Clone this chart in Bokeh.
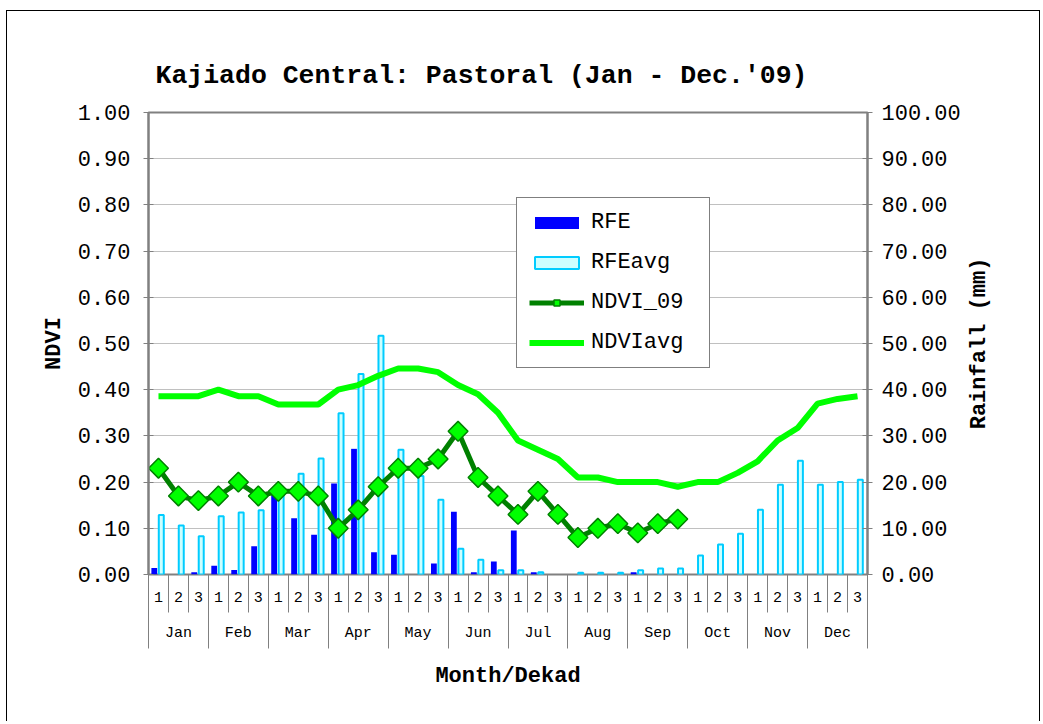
import numpy as np
from bokeh.plotting import figure
from bokeh.models import (Range1d, LinearAxis, FixedTicker, SingleIntervalTicker,
                          NumeralTickFormatter, Legend, LegendItem, Grid, ColumnDataSource)
from bokeh.embed import file_html
from bokeh.resources import INLINE

# ---------------- data ----------------
months = ["Jan", "Feb", "Mar", "Apr", "May", "Jun", "Jul", "Aug", "Sep", "Oct", "Nov", "Dec"]
dekads = ["1", "2", "3"]

rfe = [1.4, 0.0, 0.5, 1.9, 1.0, 6.1, 18.3, 12.2, 8.6, 19.7, 27.2, 4.8,
       4.3, 0.0, 2.4, 13.6, 0.5, 2.8, 9.5, 0.5, 0.0, 0.0, 0.0, 0.0,
       0.5, 0.0, 0.0, 0.0, 0.0, 0.0, 0.0, 0.0, 0.0, 0.0, 0.0, 0.0]

rfe_avg = [12.9, 10.6, 8.3, 12.6, 13.4, 13.9, 18.6, 21.8, 25.1, 34.9, 43.4, 51.7,
           27.0, 21.3, 16.2, 5.6, 3.2, 0.9, 0.9, 0.5, 0.0, 0.4, 0.4, 0.4,
           0.9, 1.3, 1.3, 4.1, 6.5, 8.8, 14.0, 19.4, 24.6, 19.4, 20.0, 20.5]

ndvi_09 = [0.23, 0.17, 0.16, 0.17, 0.20, 0.17, 0.18, 0.18, 0.17, 0.10, 0.14, 0.19,
           0.23, 0.23, 0.25, 0.31, 0.21, 0.17, 0.13, 0.18, 0.13, 0.08, 0.10, 0.11,
           0.09, 0.11, 0.12]

ndvi_avg = [0.386, 0.386, 0.386, 0.40, 0.386, 0.386, 0.368, 0.368, 0.368, 0.40, 0.41, 0.43,
            0.446, 0.446, 0.438, 0.41, 0.39, 0.35, 0.29, 0.27, 0.25, 0.21, 0.21, 0.20,
            0.20, 0.20, 0.19, 0.20, 0.20, 0.22, 0.245, 0.29, 0.317, 0.37, 0.38, 0.386]

title_text = "Kajiado Central: Pastoral (Jan - Dec.'09)"
left_title = "NDVI"
right_title = "Rainfall (mm)"
bottom_title = "Month/Dekad"

# ---------------- derived positions (category index -> numeric axis) ----------------
n = len(months) * len(dekads)
xc = np.arange(n) + 0.5
rfe_a = np.array(rfe)
rfe_avg_a = np.array(rfe_avg)

FONT = "Liberation Mono"
GRAY = "#808080"

p = figure(width=1034, height=711,
           x_range=Range1d(0, n), y_range=Range1d(0, 1),
           x_axis_type=None, y_axis_type=None,
           output_backend="svg", toolbar_location=None,
           min_border_left=141, min_border_right=174,
           min_border_top=101, min_border_bottom=148,
           background_fill_color="white", border_fill_color="white",
           outline_line_color=GRAY, outline_line_width=2)
p.extra_y_ranges = {"rain": Range1d(0, 100)}
p.styles = {"border-top": "1px solid black", "border-left": "1px solid black",
            "border-right": "1px solid black",
            "margin-left": "6px", "margin-top": "10px"}

# title
p.title.text = title_text
p.title.align = "left"
p.title.offset = 7
p.title.standoff = 43
p.title.text_font = FONT
p.title.text_font_style = "bold"
p.title.text_font_size = "26.5px"
p.title.text_color = "black"

# left axis (NDVI)
yl = LinearAxis(ticker=SingleIntervalTicker(interval=0.1, num_minor_ticks=0),
                formatter=NumeralTickFormatter(format="0.00"),
                axis_label=left_title)
# right axis (Rainfall); title reads bottom-to-top, anchored at the axis start
yr = LinearAxis(y_range_name="rain",
                ticker=SingleIntervalTicker(interval=10, num_minor_ticks=0),
                formatter=NumeralTickFormatter(format="0.00"),
                axis_label="\u00a0" * 11 + right_title,
                axis_label_orientation=np.pi / 2, axis_label_align="start")
for ax, so in ((yl, 13), (yr, 9)):
    ax.axis_line_color = GRAY
    ax.axis_line_width = 2
    ax.major_tick_line_color = GRAY
    ax.major_tick_line_width = 1
    ax.major_tick_in = 5
    ax.major_tick_out = 5
    ax.minor_tick_line_color = None
    ax.major_label_text_font = FONT
    ax.major_label_text_font_size = "22px"
    ax.major_label_text_color = "black"
    ax.major_label_standoff = so
    ax.axis_label_text_font = FONT
    ax.axis_label_text_font_style = "bold"
    ax.axis_label_text_font_size = "22px"
    ax.axis_label_text_color = "black"
yl.axis_label_standoff = 8
yr.axis_label_standoff = 16
p.add_layout(yl, "left")
p.add_layout(yr, "right")

p.add_layout(Grid(dimension=1, ticker=yl.ticker, grid_line_color="#c0c0c0",
                  grid_line_width=1))

# bottom: dekad row and month row
dek_overrides = {float(x): d for x, d in zip(xc, dekads * len(months))}
mon_centers = [float(i * 3 + 1.5) for i in range(len(months))]
mon_overrides = {c: m for c, m in zip(mon_centers, months)}

ax_dek = LinearAxis(ticker=FixedTicker(ticks=[float(v) for v in xc],
                                       minor_ticks=[float(v) for v in range(n + 1)]),
                    major_label_overrides=dek_overrides)
ax_mon = LinearAxis(ticker=FixedTicker(ticks=mon_centers,
                                       minor_ticks=[float(v) for v in range(0, n + 1, 3)]),
                    major_label_overrides=mon_overrides,
                    axis_label=bottom_title)
for ax, tick_len, so in ((ax_dek, 38, -21), (ax_mon, 44, -24)):
    ax.axis_line_color = None
    ax.major_tick_in = 0
    ax.major_tick_out = 0
    ax.major_tick_line_color = None
    ax.minor_tick_in = 0
    ax.minor_tick_out = tick_len
    ax.minor_tick_line_color = GRAY
    ax.minor_tick_line_width = 1
    ax.major_label_text_font = FONT
    ax.major_label_text_font_size = "15px"
    ax.major_label_text_color = "black"
    ax.major_label_standoff = so
ax_mon.axis_label_text_font = FONT
ax_mon.axis_label_text_font_style = "bold"
ax_mon.axis_label_text_font_size = "22px"
ax_mon.axis_label_text_color = "black"
ax_mon.axis_label_standoff = 19
p.add_layout(ax_dek, "below")
p.add_layout(ax_mon, "below")

# bars
m1 = rfe_a > 0
src_rfe = ColumnDataSource(dict(x=xc[m1] - 0.21, top=rfe_a[m1]))
r_rfe = p.vbar(x="x", top="top", width=0.29, source=src_rfe, y_range_name="rain",
               fill_color="#0000FF", line_color=None)
m2 = rfe_avg_a > 0
src_avg = ColumnDataSource(dict(x=xc[m2] + 0.14, top=rfe_avg_a[m2]))
r_avg = p.vbar(x="x", top="top", width=0.25, source=src_avg, y_range_name="rain",
               fill_color="#CCFFFF", line_color="#00CCFF", line_width=2)

# lines
r_navg = p.line(xc, ndvi_avg, line_color="#00FF00", line_width=6)
x09 = xc[:len(ndvi_09)]
r_n09 = p.line(x09, ndvi_09, line_color="#008000", line_width=5)
r_n09m = p.scatter(x09, ndvi_09, marker="square", angle=np.pi / 4, size=14,
                   fill_color="#00FF00", line_color="#008000", line_width=1.5)

legend = Legend(items=[LegendItem(label="RFE", renderers=[r_rfe]),
                       LegendItem(label="RFEavg", renderers=[r_avg]),
                       LegendItem(label="NDVI_09", renderers=[r_n09, r_n09m]),
                       LegendItem(label="NDVIavg", renderers=[r_navg])],
                location=(368, 206), orientation="vertical",
                padding=12, spacing=15, margin=0,
                glyph_width=55, glyph_height=15, label_standoff=7, label_width=106,
                label_text_font=FONT, label_text_font_size="22px", label_text_color="black",
                border_line_color="black", border_line_width=1,
                background_fill_color="white", background_fill_alpha=1.0)
p.add_layout(legend, "center")

open("out.html", "w").write(file_html(p, INLINE))
